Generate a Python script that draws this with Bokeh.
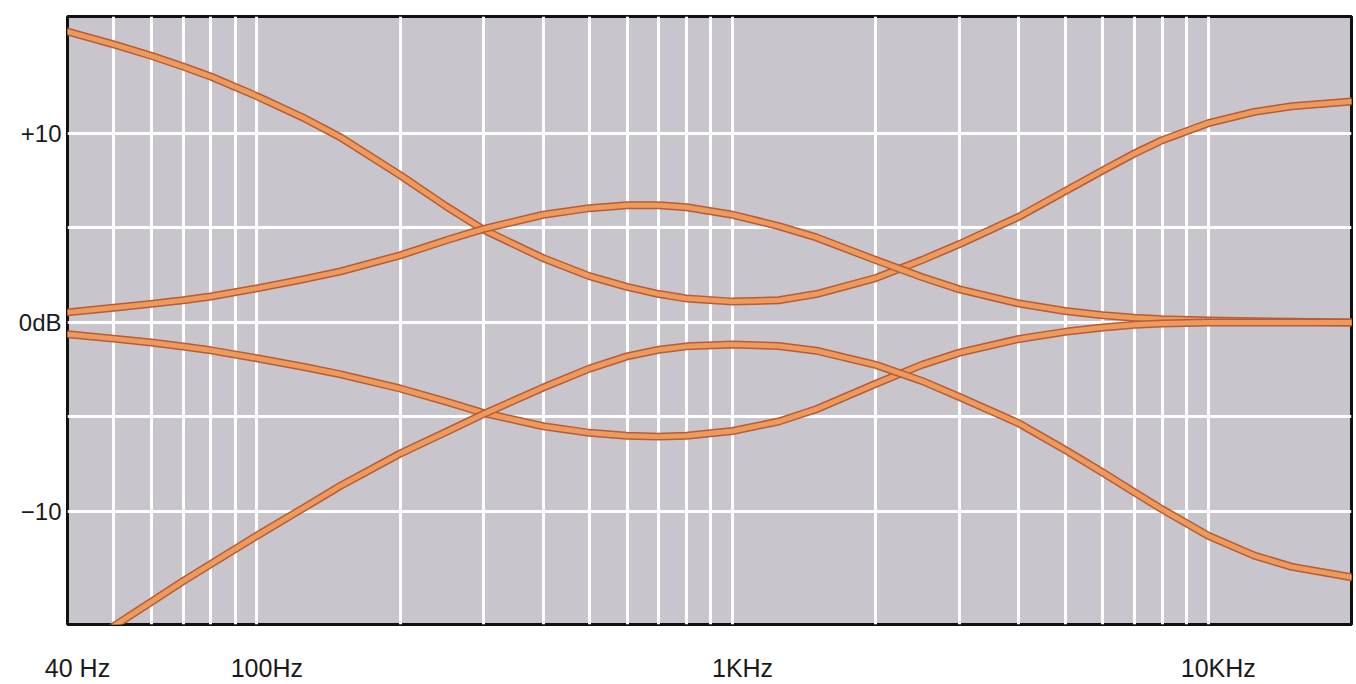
from bokeh.plotting import figure
from bokeh.models import Range1d, LogScale, LogAxis, FixedTicker
from bokeh.embed import file_html
from bokeh.resources import INLINE

# Tone-control response curves, frequency in Hz, level in dB
freq = [40, 50, 60, 70, 80, 100, 125, 150, 200, 250, 300, 400, 500, 600, 700,
        800, 1000, 1250, 1500, 2000, 2500, 3000, 4000, 5000, 6000, 7000, 8000,
        10000, 12500, 15000, 20000]

bass_treble_boost = [15.4, 14.72, 14.12, 13.55, 13.02, 11.98, 10.85, 9.8, 7.8, 6.15,
                     4.9, 3.4, 2.45, 1.88, 1.5, 1.27, 1.1, 1.17, 1.5, 2.35, 3.3,
                     4.15, 5.6, 6.95, 8.05, 8.95, 9.65, 10.55, 11.15, 11.45, 11.7]

mid_boost = [0.53, 0.78, 0.98, 1.17, 1.37, 1.8, 2.28, 2.7, 3.55, 4.35, 4.95, 5.7,
             6.05, 6.2, 6.2, 6.1, 5.7, 5.1, 4.5, 3.3, 2.4, 1.75, 1.0, 0.6, 0.38,
             0.25, 0.17, 0.1, 0.06, 0.03, 0.0]

mid_cut = [-0.63, -0.86, -1.07, -1.28, -1.48, -1.9, -2.35, -2.75, -3.5, -4.2, -4.8,
           -5.5, -5.85, -6.0, -6.05, -6.0, -5.75, -5.25, -4.6, -3.25, -2.25, -1.6,
           -0.88, -0.5, -0.27, -0.13, -0.06, 0.0, 0.0, 0.0, 0.0]

bass_treble_cut = [-17.7, -16.1, -14.8, -13.7, -12.8, -11.3, -9.85, -8.65, -6.95,
                   -5.8, -4.85, -3.45, -2.45, -1.8, -1.45, -1.27, -1.17, -1.25, -1.5,
                   -2.25, -3.1, -3.95, -5.35, -6.75, -7.95, -9.0, -9.9, -11.3,
                   -12.35, -12.95, -13.5]

curves = [bass_treble_boost, mid_boost, mid_cut, bass_treble_cut]

grid_freqs = [50, 60, 70, 80, 90,
              100, 200, 300, 400, 500, 600, 700, 800, 900,
              1000, 2000, 3000, 4000, 5000, 6000, 7000, 8000, 9000, 10000]
grid_db = [-10, -5, 0, 5, 10]

x_ticks = [40, 100, 1000, 10000]
x_tick_labels = ["40 Hz", "100Hz", "1KHz", "10KHz"]
y_ticks = [-10, 0, 10]
y_tick_labels = ["\u221210", "0dB", "+10"]

f_lo, f_hi = 40, 20000

p = figure(width=1356, height=684, x_axis_type="log",
           x_range=Range1d(f_lo, f_hi), y_range=Range1d(-16, 16.2),
           x_axis_location=None, output_backend="svg", toolbar_location=None,
           min_border_left=67, min_border_right=5, min_border_top=16,
           min_border_bottom=59)

p.background_fill_color = "#c9c5cc"
p.border_fill_color = "white"
p.outline_line_color = "#111111"
p.outline_line_width = 3

p.xgrid.ticker = FixedTicker(ticks=grid_freqs)
p.ygrid.ticker = FixedTicker(ticks=grid_db)
for g in (p.xgrid, p.ygrid):
    g.grid_line_color = "white"
    g.grid_line_width = 3
    g.grid_line_alpha = 1.0

# y axis: only the +10 / 0dB / -10 marks, no ticks or axis line
yax = p.yaxis[0]
yax.ticker = FixedTicker(ticks=y_ticks)
yax.major_label_overrides = dict(zip(y_ticks, y_tick_labels))
yax.axis_line_color = None
yax.major_tick_line_color = None
yax.minor_tick_line_color = None
yax.major_tick_out = 0
yax.major_tick_in = 0
yax.major_label_standoff = 6
yax.major_label_text_font = "Liberation Sans"
yax.major_label_text_font_size = "24px"
yax.major_label_text_color = "#1a1a1a"

# frequency labels sit a little to the right of their grid lines
shift = 10 ** (10 / 475.7)
p.extra_x_ranges = {"labels": Range1d(f_lo / shift, f_hi / shift)}
p.extra_x_scales = {"labels": LogScale()}
xax = LogAxis(x_range_name="labels", ticker=FixedTicker(ticks=x_ticks),
              major_label_overrides=dict(zip(x_ticks, x_tick_labels)))
xax.axis_line_color = None
xax.major_tick_line_color = None
xax.minor_tick_line_color = None
xax.major_tick_out = 0
xax.major_tick_in = 0
xax.major_label_standoff = 29
xax.major_label_text_font = "Liberation Sans"
xax.major_label_text_font_size = "25px"
xax.major_label_text_color = "#1a1a1a"
p.add_layout(xax, "below")

# each curve: darker rim under a lighter orange core
for vals in curves:
    p.line(freq, vals, line_color="#b65c3a", line_width=8, line_join="round",
           line_cap="round")
    p.line(freq, vals, line_color="#ee9a5a", line_width=5, line_join="round",
           line_cap="round")

open("out.html", "w").write(file_html(p, INLINE))
